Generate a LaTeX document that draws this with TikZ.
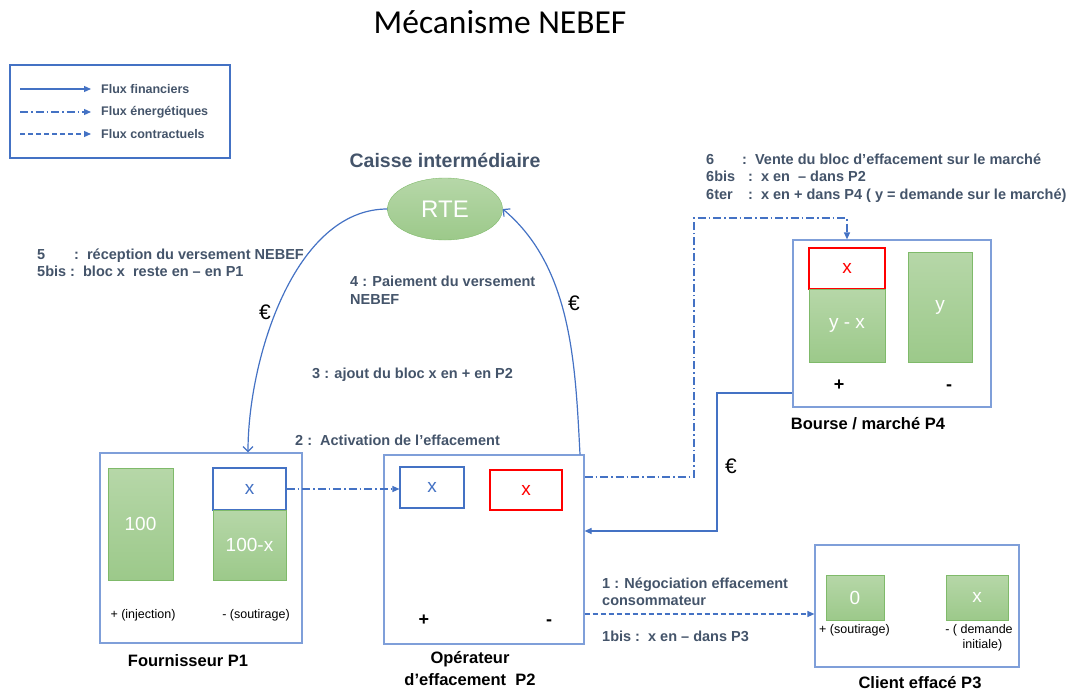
\documentclass[tikz,border=0pt]{standalone}
\usepackage{fontspec}
\setmainfont{Liberation Sans}
\newfontfamily\titlefont{Carlito}
\usetikzlibrary{shapes.geometric,arrows.meta}
\definecolor{txtgray}{HTML}{44546A}
\definecolor{lineblue}{HTML}{4472C4}
\definecolor{boxblue}{HTML}{7F9FD9}
\definecolor{grtop}{HTML}{B6D7A8}
\definecolor{grbot}{HTML}{9CC98A}
\definecolor{grline}{HTML}{7FBA6A}
\tikzset{
  part/.style={draw=boxblue, line width=1.2pt, inner sep=0},
  bloc/.style={draw=grline, top color=grtop, bottom color=grbot, text=white,
    font=\fontsize{19}{21}\selectfont, inner sep=0},
  blocw/.style={draw=lineblue, line width=1.1pt, fill=white, text=lineblue,
    font=\fontsize{19}{21}\selectfont, inner sep=0},
  blocr/.style={draw=red, line width=1.8pt, fill=white, text=red,
    font=\fontsize{19}{21}\selectfont, inner sep=0},
  lbl/.style={text=txtgray, font=\bfseries\fontsize{14.5}{17.5}\selectfont,
    align=left, anchor=west, inner sep=0},
  leg/.style={text=txtgray, font=\bfseries\fontsize{12.5}{14}\selectfont,
    anchor=west, inner sep=0},
  small/.style={font=\fontsize{12.5}{15}\selectfont, inner sep=0},
  sign/.style={font=\bfseries\fontsize{18}{20}\selectfont, inner sep=0},
  euro/.style={font=\fontsize{21}{22}\selectfont, inner sep=0},
  pname/.style={font=\bfseries\fontsize{16.5}{22}\selectfont, align=center, inner sep=0},
  fin/.style={lineblue, line width=1.2pt, -{Triangle[length=7pt,width=6pt]}},
  nrj/.style={fin, dash pattern=on 8pt off 3pt on 1.5pt off 3pt},
  ctr/.style={fin, dash pattern=on 5pt off 3pt},
  rtearrow/.style={lineblue, line width=1.2pt, -{Straight Barb[length=5pt,width=10pt]}}
}
\begin{document}
\begin{tikzpicture}[x=1pt,y=-1pt]
\useasboundingbox (0,0) rectangle (1080,691);
\node[font=\titlefont\fontsize{33.5}{36}\selectfont] (title) at (500,22) {Mécanisme NEBEF};
% legende
\node[draw=lineblue, line width=1.2pt, minimum width=220pt, minimum height=93pt, inner sep=0] (legend) at (120,111.5) {};
\node[leg] (lf) at (101,89) {Flux financiers};
\node[leg] (le) at (101,112) {Flux énergétiques};
\node[leg] (lc) at (101,134) {Flux contractuels};
\coordinate (lf0) at (20,89);
\coordinate (le0) at (20,112);
\coordinate (lc0) at (20,134);
\draw[fin] (lf0) -- ([xshift=-10pt]lf.west);
\draw[nrj] (le0) -- ([xshift=-10pt]le.west);
\draw[ctr] (lc0) -- ([xshift=-10pt]lc.west);
% RTE
\node[font=\bfseries\fontsize{19.5}{22}\selectfont, text=txtgray] (caisse) at (445,160) {Caisse intermédiaire};
\node[ellipse, draw=grline, top color=grtop, bottom color=grbot, text=white,
  minimum width=115pt, minimum height=62pt, inner sep=0,
  font=\fontsize{24}{26}\selectfont] (rte) at (445,209) {RTE};
% P1
\node[part, minimum width=202pt, minimum height=190pt] (p1) at (201,548) {};
\node[bloc, minimum width=65pt, minimum height=112pt] (p1a) at (140.5,524) {100};
\node[blocw, minimum width=73pt, minimum height=42pt] (p1x) at (249.5,489) {x};
\node[bloc, minimum width=73pt, minimum height=70pt] (p1b) at (249.5,545) {100-x};
\node[small] (p1p) at (143,615) {+ (injection)};
\node[small] (p1m) at (256,615) {- (soutirage)};
\node[pname] (p1n) at (188,661) {Fournisseur P1};
% P2
\node[part, minimum width=200pt, minimum height=189pt] (p2) at (484,549.5) {};
\node[blocw, minimum width=64pt, minimum height=41pt] (p2x) at (432,487.5) {x};
\node[blocr, minimum width=72pt, minimum height=40pt] (p2r) at (526,490) {x};
\node[sign] (p2p) at (424,620) {+};
\node[sign] (p2m) at (549,623) {-};
\node[pname] (p2n) at (470,669) {Opérateur\\d’effacement\ \ P2};
% P3
\node[part, minimum width=204pt, minimum height=122pt] (p3) at (917,606) {};
\node[bloc, minimum width=58pt, minimum height=45pt] (p3a) at (855,597.5) {0};
\node[bloc, minimum width=62pt, minimum height=45pt] (p3b) at (977,597.5) {x};
\node[small, anchor=west] (p3p) at (819,630) {+ (soutirage)};
\node[small, align=center] (p3m) at (979,638) {- ( demande\\\ \ initiale)};
\node[pname] (p3n) at (920,683) {Client effacé P3};
% P4
\node[part, minimum width=198pt, minimum height=167pt] (p4) at (892,323.5) {};
\node[blocr, minimum width=76pt, minimum height=41pt] (p4x) at (847,268.5) {x};
\node[bloc, minimum width=76pt, minimum height=73pt] (p4a) at (847,325.5) {y - x};
\node[bloc, minimum width=64pt, minimum height=110pt] (p4b) at (940,307) {y};
\node[sign] (p4p) at (839,385) {+};
\node[sign] (p4m) at (949,388) {-};
\node[pname] (p4n) at (868,424) {Bourse / marché P4};
% etapes
\node[lbl] (e1) at (602,591.5) {1 : Négociation effacement\\consommateur};
\node[lbl] (e1b) at (602,636) {1bis :\ \ x en – dans P3};
\node[lbl] (e2) at (295,440) {2 :\ \ Activation de l’effacement};
\node[lbl] (e3) at (312,375) {3 : ajout du bloc x en + en P2};
\node[lbl] (e4) at (350,290) {4 : Paiement du versement\\NEBEF};
\node[lbl] (e5) at (37,262.5) {\makebox[37pt][l]{5}:\ \ réception du versement NEBEF\\5bis :\ \ bloc x\ \ reste en – en P1};
\node[lbl] (e6) at (706,178) {\makebox[36pt][l]{6}:\ \ Vente du bloc d’effacement sur le marché\\\makebox[42pt][l]{6bis}:\ \ x en\ \ – dans P2\\\makebox[42pt][l]{6ter}:\ \ x en + dans P4 ( y = demande sur le marché)};
\node[euro] (eu1) at (265,312) {€};
\node[euro] (eu2) at (574,303) {€};
\node[euro] (eu3) at (731,466) {€};
% flux
\coordinate (k1) at (694,218);
\coordinate (k2) at (717,531);
\coordinate (p3in) at ([yshift=-8pt]p3.west);
\draw[rtearrow] (rte.west) to[out=180, in=90, looseness=0.85] ([xshift=47pt]p1.north);
\draw[rtearrow] ([xshift=96pt]p2.north) to[out=93, in=-40, looseness=0.9] (rte.east);
\draw[nrj] (p1x.east) -- (p1x.east -| p2x.west);
\draw[nrj] ([yshift=72.5pt]p2.east) -| (k1) -| (p4.north -| p4x);
\draw[fin] ([yshift=-69.5pt]p4.west) -| (k2) -- (k2 -| p2.east);
\draw[ctr] (p3in -| p2.east) -- (p3in);
\end{tikzpicture}
\end{document}
